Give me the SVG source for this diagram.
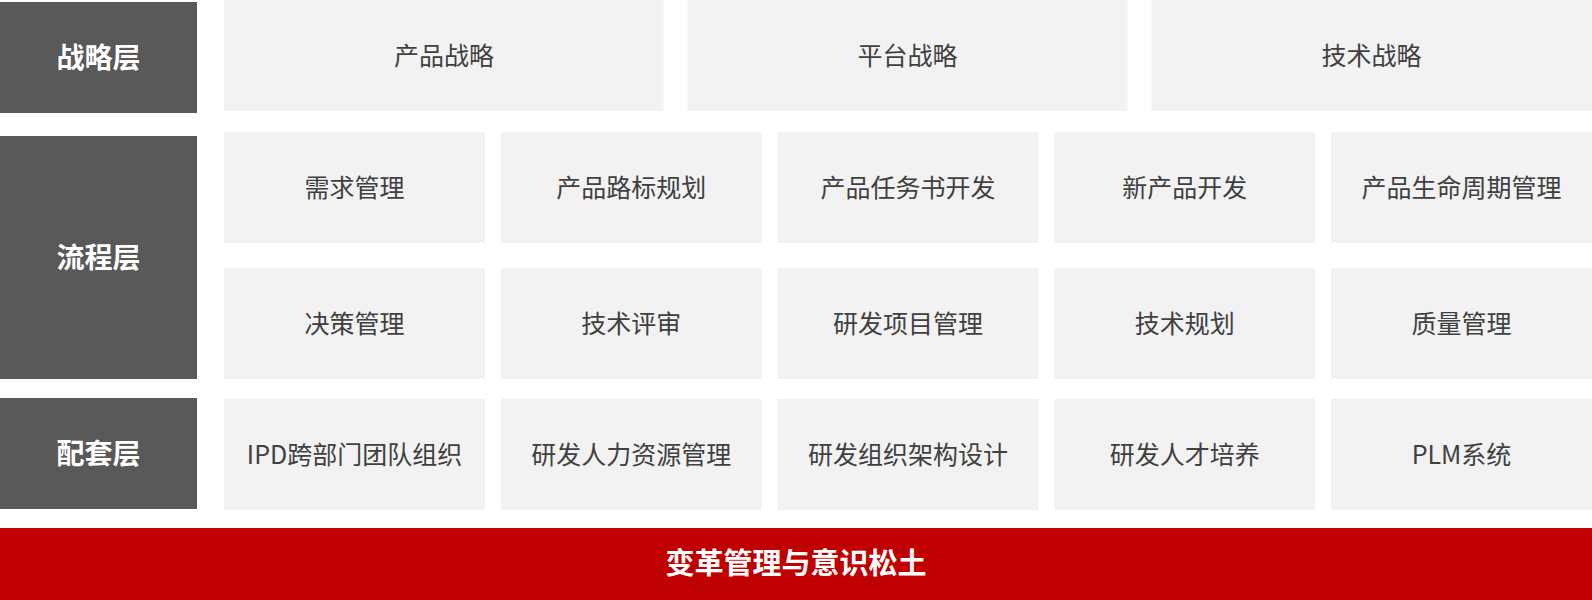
<svg xmlns="http://www.w3.org/2000/svg" width="1592" height="600" viewBox="0 0 1592 600">
<style>
.lab rect{fill:#595959}
.lab text{fill:#ffffff;font-family:"Noto Sans CJK SC","Liberation Sans",sans-serif;font-size:28px;font-weight:bold;text-anchor:middle}
.box rect{fill:#f2f2f2}
.box text{fill:#404040;font-family:"Noto Sans CJK SC","Liberation Sans",sans-serif;font-size:25px;text-anchor:middle}
.base rect{fill:#c00000}
.base text{fill:#ffffff;font-family:"Noto Sans CJK SC","Liberation Sans",sans-serif;font-size:29px;font-weight:bold;text-anchor:middle}
</style>
<rect width="1592" height="600" fill="#ffffff"/>
<g id="labels">
<g id="lab-strategy" class="lab"><rect x="0" y="2" width="197" height="111"/><text x="98.5" y="67.5">战略层</text></g>
<g id="lab-process" class="lab"><rect x="0" y="136" width="197" height="243"/><text x="98.5" y="267.5">流程层</text></g>
<g id="lab-support" class="lab"><rect x="0" y="398" width="197" height="111"/><text x="98.5" y="463.5">配套层</text></g>
</g>
<g id="strategy">
<g id="s1" class="box"><rect x="224" y="0" width="439.5" height="111"/><text x="444" y="64.5">产品战略</text></g>
<g id="s2" class="box"><rect x="687.5" y="0" width="440" height="111"/><text x="907.5" y="64.5">平台战略</text></g>
<g id="s3" class="box"><rect x="1151.5" y="0" width="440.5" height="111"/><text x="1371.5" y="64.5">技术战略</text></g>
</g>
<g id="process">
<g id="p1" class="box"><rect x="224" y="132" width="261" height="111"/><text x="354.5" y="196.5">需求管理</text></g>
<g id="p2" class="box"><rect x="500.75" y="132" width="261" height="111"/><text x="631.25" y="196.5">产品路标规划</text></g>
<g id="p3" class="box"><rect x="777.5" y="132" width="261" height="111"/><text x="908" y="196.5">产品任务书开发</text></g>
<g id="p4" class="box"><rect x="1054.25" y="132" width="261" height="111"/><text x="1184.75" y="196.5">新产品开发</text></g>
<g id="p5" class="box"><rect x="1331" y="132" width="261" height="111"/><text x="1461.5" y="196.5">产品生命周期管理</text></g>
<g id="p6" class="box"><rect x="224" y="268" width="261" height="111"/><text x="354.5" y="332.5">决策管理</text></g>
<g id="p7" class="box"><rect x="500.75" y="268" width="261" height="111"/><text x="631.25" y="332.5">技术评审</text></g>
<g id="p8" class="box"><rect x="777.5" y="268" width="261" height="111"/><text x="908" y="332.5">研发项目管理</text></g>
<g id="p9" class="box"><rect x="1054.25" y="268" width="261" height="111"/><text x="1184.75" y="332.5">技术规划</text></g>
<g id="p10" class="box"><rect x="1331" y="268" width="261" height="111"/><text x="1461.5" y="332.5">质量管理</text></g>
</g>
<g id="support">
<g id="c1" class="box"><rect x="224" y="399" width="261" height="111"/><text x="354.5" y="463.5">IPD跨部门团队组织</text></g>
<g id="c2" class="box"><rect x="500.75" y="399" width="261" height="111"/><text x="631.25" y="463.5">研发人力资源管理</text></g>
<g id="c3" class="box"><rect x="777.5" y="399" width="261" height="111"/><text x="908" y="463.5">研发组织架构设计</text></g>
<g id="c4" class="box"><rect x="1054.25" y="399" width="261" height="111"/><text x="1184.75" y="463.5">研发人才培养</text></g>
<g id="c5" class="box"><rect x="1331" y="399" width="261" height="111"/><text x="1461.5" y="463.5">PLM系统</text></g>
</g>
<g id="foundation" class="base"><rect x="0" y="528" width="1592" height="72"/><text x="796" y="574">变革管理与意识松土</text></g>
<g id="connectors"></g>
</svg>
